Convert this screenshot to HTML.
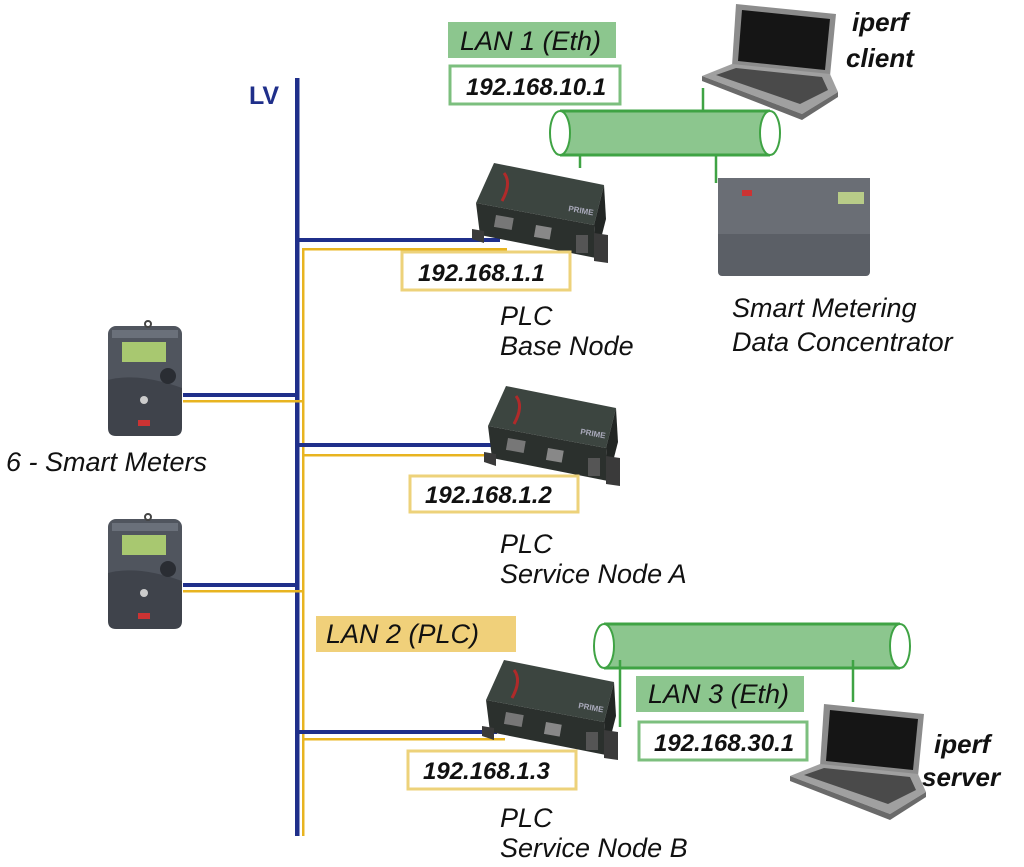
<!DOCTYPE html>
<html><head><meta charset="utf-8"><style>
html,body{margin:0;padding:0;background:#fff;width:1024px;height:867px;overflow:hidden}
text{font-family:"Liberation Sans",Arial,sans-serif}
</style></head><body>
<svg width="1024" height="867" viewBox="0 0 1024 867" xmlns="http://www.w3.org/2000/svg">
<defs>
  <g id="dev">
    <polygon points="18,0 128,22 118,62 0,40" fill="#3c4540"/>
    <polygon points="0,40 118,62 120,95 4,72" fill="#2b302d"/>
    <polygon points="118,62 128,22 130,56 120,95" fill="#222624"/>
    <path d="M28,10 q8,10 -2,28" stroke="#b02a2a" stroke-width="3" fill="none"/>
    <text x="92" y="48" font-size="8" font-weight="bold" fill="#aab" transform="rotate(10 92 48)">PRIME</text>
    <rect x="20" y="52" width="18" height="12" fill="#777" transform="rotate(10 20 52)"/>
    <rect x="60" y="62" width="16" height="12" fill="#888" transform="rotate(10 60 62)"/>
    <rect x="100" y="72" width="12" height="18" fill="#555"/>
    <polygon points="118,70 132,72 132,100 118,98" fill="#3a3a3a"/>
    <polygon points="-4,66 8,68 8,80 -4,76" fill="#3a3a3a"/>
  </g>
  <g id="meter">
    <rect x="0" y="6" width="74" height="104" rx="8" fill="#50555e"/>
    <circle cx="40" cy="4" r="3" fill="none" stroke="#444" stroke-width="2"/>
    <rect x="14" y="22" width="44" height="20" fill="#a8c870"/>
    <rect x="4" y="10" width="66" height="8" fill="#6a707a"/>
    <path d="M0,60 q30,-8 74,8 v40 q0,8 -8,8 h-58 q-8,0 -8,-8z" fill="#3f434b"/>
    <circle cx="60" cy="56" r="8" fill="#2a2d33"/>
    <circle cx="36" cy="80" r="4" fill="#ccc"/>
    <rect x="30" y="100" width="12" height="6" fill="#c33"/>
  </g>
  <g id="laptop">
    <polygon points="34,0 134,10 128,72 30,62" fill="#8c8c8c"/>
    <polygon points="40,6 128,15 123,66 36,57" fill="#151515"/>
    <polygon points="30,60 128,70 136,88 100,110 0,72" fill="#a0a0a0"/>
    <polygon points="34,64 120,73 126,86 98,100 14,71" fill="#4a4a4a"/>
    <polygon points="0,72 100,110 136,88 136,93 100,116 0,77" fill="#6a6a6a"/>
  </g>
</defs>

<text x="249" y="104" font-size="25" font-weight="bold" fill="#1f2f8a">LV</text>
<rect x="295" y="78" width="4.5" height="758" fill="#1f2f8a"/>
<rect x="302" y="248" width="2.5" height="588" fill="#e8b420"/>
<rect x="297" y="238" width="203" height="4" fill="#1f2f8a"/>
<rect x="302" y="248" width="205" height="2.5" fill="#e8b420"/>
<rect x="183" y="393" width="114" height="4" fill="#1f2f8a"/>
<rect x="183" y="400" width="121" height="2.5" fill="#e8b420"/>
<rect x="297" y="443" width="198" height="4" fill="#1f2f8a"/>
<rect x="302" y="454" width="200" height="2.5" fill="#e8b420"/>
<rect x="183" y="583" width="114" height="4" fill="#1f2f8a"/>
<rect x="183" y="590" width="121" height="2.5" fill="#e8b420"/>
<rect x="297" y="730" width="200" height="4" fill="#1f2f8a"/>
<rect x="302" y="738" width="203" height="2.5" fill="#e8b420"/>

<rect x="448" y="22" width="168" height="36" fill="#8cc68e"/>
<text x="460" y="50" font-size="27" font-style="italic" fill="#111">LAN 1 (Eth)</text>
<rect x="450" y="66" width="170" height="38" fill="#fff" stroke="#7cbf7e" stroke-width="3"/>
<text x="466" y="95" font-size="24" font-weight="bold" font-style="italic" fill="#111">192.168.10.1</text>
<rect x="560" y="111" width="210" height="44" fill="#8cc68e"/>
<line x1="560" y1="111" x2="770" y2="111" stroke="#3fa344" stroke-width="3"/>
<line x1="560" y1="155" x2="770" y2="155" stroke="#3fa344" stroke-width="3"/>
<ellipse cx="560" cy="133" rx="10" ry="22" fill="#fff" stroke="#3fa344" stroke-width="2"/>
<ellipse cx="770" cy="133" rx="10" ry="22" fill="#fff" stroke="#3fa344" stroke-width="2"/>
<line x1="703" y1="88" x2="703" y2="112" stroke="#3fa344" stroke-width="2.5"/>
<line x1="580" y1="155" x2="580" y2="168" stroke="#3fa344" stroke-width="2.5"/>
<line x1="716" y1="155" x2="716" y2="183" stroke="#3fa344" stroke-width="2.5"/>

<use href="#laptop" x="702" y="4"/>
<text x="852" y="31" font-size="26" font-weight="bold" font-style="italic" fill="#111">iperf</text>
<text x="846" y="67" font-size="26" font-weight="bold" font-style="italic" fill="#111">client</text>

<rect x="718" y="178" width="152" height="98" rx="4" fill="#5b5f66"/>
<rect x="718" y="178" width="152" height="56" fill="#6a6e75"/>
<rect x="838" y="192" width="26" height="12" fill="#b8cc88"/>
<rect x="742" y="190" width="10" height="6" fill="#c33"/>

<text x="732" y="317" font-size="27" font-style="italic" fill="#111">Smart Metering</text>
<text x="732" y="351" font-size="27" font-style="italic" fill="#111">Data Concentrator</text>

<use href="#dev" x="476" y="163"/>
<rect x="402" y="252" width="168" height="38" fill="#fff" stroke="#edd27a" stroke-width="3"/>
<text x="418" y="281" font-size="24" font-weight="bold" font-style="italic" fill="#111">192.168.1.1</text>
<text x="500" y="325" font-size="27" font-style="italic" fill="#111">PLC</text>
<text x="500" y="355" font-size="27" font-style="italic" fill="#111">Base Node</text>

<use href="#meter" x="108" y="320"/>
<use href="#meter" x="108" y="513"/>
<text x="6" y="471" font-size="27" font-style="italic" fill="#111">6 - Smart Meters</text>

<use href="#dev" x="488" y="386"/>
<rect x="410" y="476" width="168" height="36" fill="#fff" stroke="#edd27a" stroke-width="3"/>
<text x="425" y="503" font-size="24" font-weight="bold" font-style="italic" fill="#111">192.168.1.2</text>
<text x="500" y="553" font-size="27" font-style="italic" fill="#111">PLC</text>
<text x="500" y="583" font-size="27" font-style="italic" fill="#111">Service Node A</text>

<rect x="316" y="616" width="200" height="36" fill="#f0d07a"/>
<text x="326" y="643" font-size="27" font-style="italic" fill="#111">LAN 2 (PLC)</text>

<rect x="604" y="624" width="296" height="44" fill="#8cc68e"/>
<line x1="604" y1="624" x2="900" y2="624" stroke="#3fa344" stroke-width="3"/>
<line x1="604" y1="668" x2="900" y2="668" stroke="#3fa344" stroke-width="3"/>
<ellipse cx="604" cy="646" rx="10" ry="22" fill="#fff" stroke="#3fa344" stroke-width="2"/>
<ellipse cx="900" cy="646" rx="10" ry="22" fill="#fff" stroke="#3fa344" stroke-width="2"/>
<line x1="620" y1="660" x2="620" y2="727" stroke="#3fa344" stroke-width="2.5"/>
<line x1="853" y1="660" x2="853" y2="702" stroke="#3fa344" stroke-width="2.5"/>

<use href="#dev" x="486" y="660"/>
<rect x="408" y="751" width="168" height="38" fill="#fff" stroke="#edd27a" stroke-width="3"/>
<text x="423" y="779" font-size="24" font-weight="bold" font-style="italic" fill="#111">192.168.1.3</text>
<text x="500" y="827" font-size="27" font-style="italic" fill="#111">PLC</text>
<text x="500" y="857" font-size="27" font-style="italic" fill="#111">Service Node B</text>

<rect x="636" y="676" width="168" height="36" fill="#8cc68e"/>
<text x="648" y="703" font-size="27" font-style="italic" fill="#111">LAN 3 (Eth)</text>
<rect x="639" y="722" width="168" height="38" fill="#fff" stroke="#7cbf7e" stroke-width="3"/>
<text x="654" y="751" font-size="24" font-weight="bold" font-style="italic" fill="#111">192.168.30.1</text>

<use href="#laptop" x="790" y="704"/>
<text x="934" y="753" font-size="26" font-weight="bold" font-style="italic" fill="#111">iperf</text>
<text x="922" y="786" font-size="26" font-weight="bold" font-style="italic" fill="#111">server</text>
</svg>
</body></html>
